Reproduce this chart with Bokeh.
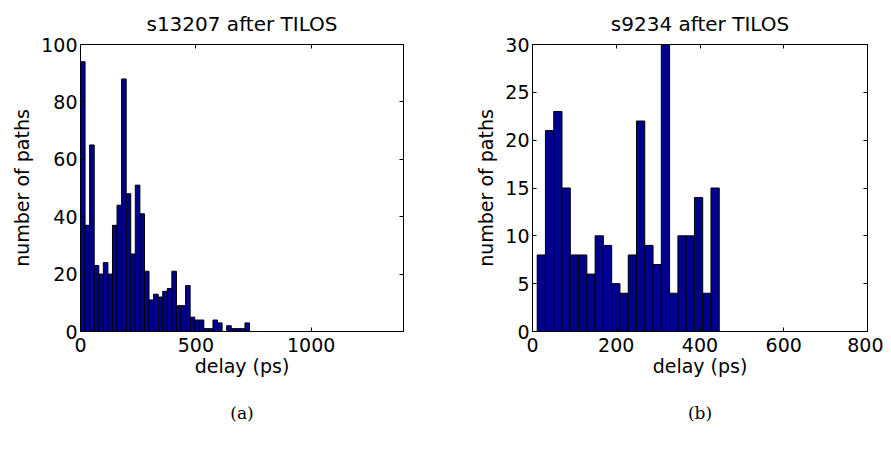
from bokeh.plotting import figure
from bokeh.models import Range1d, FixedTicker, LinearAxis, Title, CustomJSTickFormatter, ColumnDataSource
from bokeh.layouts import row
from bokeh.embed import file_html
from bokeh.resources import INLINE

# ---- data: s13207 after TILOS ----
a_title = "s13207 after TILOS"
a_centers = [9.9, 29.7, 49.5, 69.3, 89.1, 108.9, 128.7, 148.5, 168.3, 188.1,
             207.9, 227.7, 247.5, 267.3, 287.1, 306.9, 326.7, 346.5, 366.3, 386.1,
             405.9, 425.7, 445.5, 465.3, 485.1, 504.9, 524.7, 544.5, 564.3, 584.1,
             603.9, 623.7, 643.5, 663.3, 683.1, 702.9, 722.7]
a_counts = [94, 37, 65, 23, 20, 24, 20, 37, 44, 88,
            48, 27, 51, 41, 21, 11, 13, 12, 14, 15,
            21, 9, 9, 16, 5, 4, 4, 1, 1, 4,
            3, 0, 2, 1, 1, 1, 3]
a_bin_width = 19.8
a_xticks = [0, 500, 1000]
a_yticks = [0, 20, 40, 60, 80, 100]

# ---- data: s9234 after TILOS ----
b_title = "s9234 after TILOS"
b_centers = [21.1, 40.8, 60.6, 80.4, 100.1, 119.9, 139.7, 159.4, 179.2, 199.0,
             218.7, 238.5, 258.2, 278.0, 297.8, 317.5, 337.3, 357.1, 376.8, 396.6,
             416.3, 436.1]
b_counts = [8, 21, 23, 15, 8, 8, 6, 10, 9, 5,
            4, 8, 22, 9, 7, 30, 4, 10, 10, 14,
            4, 15]
b_bin_width = 19.76
b_xticks = [0, 200, 400, 600, 800]
b_yticks = [0, 5, 10, 15, 20, 25, 30]

x_label = "delay (ps)"
y_label = "number of paths"

FONT = "DejaVu Sans"
TS = "19px"


def style_axis(ax, ticks, labels=True):
    ax.ticker = FixedTicker(ticks=ticks)
    ax.major_tick_in = 4
    ax.major_tick_out = 0
    ax.minor_tick_in = 0
    ax.minor_tick_out = 0
    ax.axis_line_color = "black"
    ax.major_tick_line_color = "black"
    ax.major_label_text_font = FONT
    ax.major_label_text_font_size = TS
    ax.major_label_text_color = "black"
    ax.axis_label_text_font = FONT
    ax.axis_label_text_font_size = TS
    ax.axis_label_text_font_style = "normal"
    ax.axis_label_text_color = "black"
    if not labels:
        ax.formatter = CustomJSTickFormatter(code="return ''")
        ax.major_label_standoff = 0


def make(title, centers, counts, bw, xmax, xticks, ymax, yticks, caption,
         fw, ml, mr, cap_offset):
    p = figure(frame_width=fw, frame_height=287,
               min_border_left=ml, min_border_right=mr,
               min_border_top=44, min_border_bottom=110,
               x_range=Range1d(0, xmax), y_range=Range1d(0, ymax),
               output_backend="svg", toolbar_location=None, title=title)
    p.title.text_font = FONT
    p.title.text_font_size = "20px"
    p.title.text_font_style = "normal"
    p.title.align = "center"
    p.title.text_color = "black"
    p.title.standoff = 17
    p.xgrid.visible = False
    p.ygrid.visible = False
    p.background_fill_color = "white"
    p.border_fill_color = "white"
    p.outline_line_color = "black"

    src = ColumnDataSource(dict(x=centers, top=counts))
    p.vbar(x="x", top="top", bottom=0, width=bw, source=src,
           fill_color="#00008F", line_color="black", line_width=1)

    style_axis(p.xaxis[0], xticks)
    p.xaxis[0].axis_label = x_label
    p.xaxis[0].major_label_standoff = 6
    p.xaxis[0].axis_label_standoff = 0
    style_axis(p.yaxis[0], yticks)
    p.yaxis[0].axis_label = y_label
    p.yaxis[0].major_label_standoff = 3
    p.yaxis[0].axis_label_standoff = 5

    top = LinearAxis()
    style_axis(top, xticks, labels=False)
    p.add_layout(top, "above")
    right = LinearAxis()
    style_axis(right, yticks, labels=False)
    p.add_layout(right, "right")

    cap = Title(text=caption, align="center", text_font="DejaVu Serif",
                text_font_size="17px", text_font_style="normal",
                text_color="black", offset=cap_offset, standoff=42)
    p.add_layout(cap, "below")
    return p


p1 = make(a_title, a_centers, a_counts, a_bin_width, 1400, a_xticks, 100, a_yticks,
          "(a)", 323, 80, 45, -18)
p2 = make(b_title, b_centers, b_counts, b_bin_width, 800, b_xticks, 30, b_yticks,
          "(b)", 335, 84, 16, -23)

layout = row(p1, p2)
open("out.html", "w").write(file_html(layout, INLINE))
